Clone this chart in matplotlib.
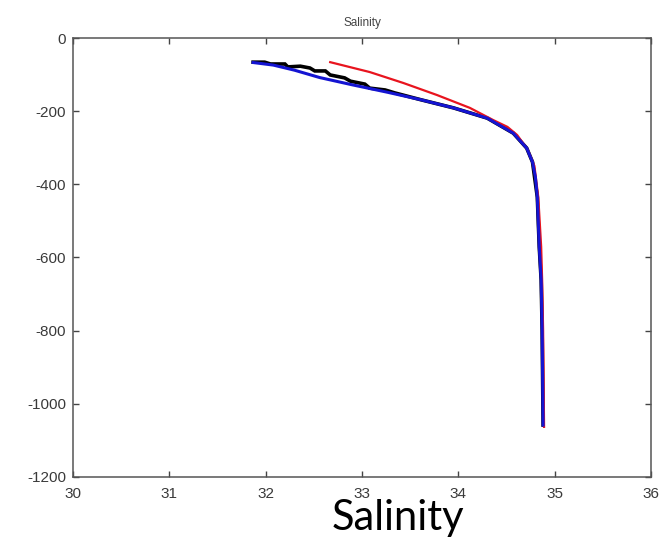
import matplotlib
matplotlib.use("Agg")
import matplotlib.pyplot as plt

# Salinity profiles (practical salinity vs depth in m)
black_sal = [31.87, 31.99, 32.05, 32.20, 32.23, 32.36, 32.46, 32.51, 32.62, 32.67,
             32.82, 32.88, 33.03, 33.08, 33.24, 33.34, 33.60, 33.95, 34.30, 34.57,
             34.71, 34.77, 34.82, 34.84, 34.86, 34.87, 34.88]
black_depth = [-66, -66, -71, -71, -79, -77, -82, -90, -90, -101,
               -109, -118, -126, -137, -142, -150, -168, -191, -219, -260,
               -301, -339, -435, -571, -662, -798, -1058]

red_sal = [32.67, 33.08, 33.43, 33.78, 34.12, 34.36, 34.51, 34.61, 34.72,
           34.79, 34.83, 34.86, 34.87, 34.88, 34.89]
red_depth = [-66, -93, -123, -156, -191, -224, -243, -265, -305,
             -350, -435, -571, -662, -798, -1063]

blue_sal = [31.87, 32.08, 32.30, 32.56, 32.90, 33.26, 33.60, 33.95, 34.30, 34.57,
            34.71, 34.77, 34.80, 34.82, 34.84, 34.86, 34.87, 34.88]
blue_depth = [-67, -74, -88, -108, -128, -148, -168, -191, -219, -260,
              -301, -339, -380, -435, -571, -662, -798, -1058]

x_ticks = [30, 31, 32, 33, 34, 35, 36]
y_ticks = [0, -200, -400, -600, -800, -1000, -1200]

fig = plt.figure(figsize=(6.67, 5.40), dpi=100)
ax = fig.add_axes([0.1094, 0.1167, 0.8666, 0.8129])

ax.plot(black_sal, black_depth, color="black", lw=2.6, solid_joinstyle="miter")
ax.plot(red_sal, red_depth, color="#e8141e", lw=1.6)
ax.plot(blue_sal, blue_depth, color="#1414d2", lw=2.2)

ax.set_xlim(30, 36)
ax.set_ylim(-1200, 0)
ax.set_xticks(x_ticks)
ax.set_yticks(y_ticks)
ax.set_xticklabels([str(v) for v in x_ticks])
ax.set_yticklabels([str(v) for v in y_ticks])

for lab in ax.get_xticklabels() + ax.get_yticklabels():
    lab.set_fontfamily("Liberation Sans")
    lab.set_fontsize(11)
    lab.set_color("#3a3a3a")

ax.tick_params(direction="in", length=4, width=1.0, color="#444444",
               top=True, right=True)
ax.tick_params(axis="x", pad=7)
ax.tick_params(axis="y", pad=5)
for sp in ax.spines.values():
    sp.set_color("#555555")
    sp.set_linewidth(1.1)

ax.set_title("Salinity", fontsize=8.5, color="#444444",
             family="Liberation Sans", pad=9)

fig.text(398 / 667, 10 / 540, "Salinity", ha="center", va="baseline",
         fontsize=30, family="Lato", color="black")

fig.savefig("out.png", dpi=100, facecolor="white")
